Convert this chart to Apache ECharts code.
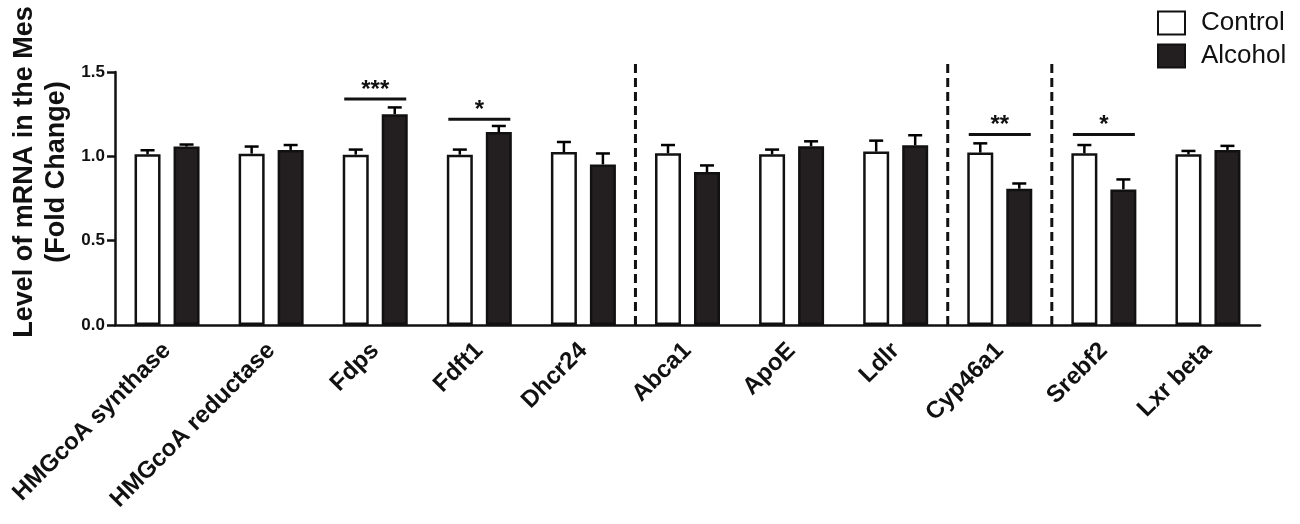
<!DOCTYPE html>
<html>
<head>
<meta charset="utf-8">
<script src="https://cdn.jsdelivr.net/npm/echarts@6/dist/echarts.min.js"></script>
<style>
html,body{margin:0;padding:0;background:#fff;}
#chart{width:1300px;height:524px;}
</style>
</head>
<body>
<div id="chart"></div>
<script>
// ---- data ----
const categories = ['HMGcoA synthase','HMGcoA reductase','Fdps','Fdft1','Dhcr24','Abca1','ApoE','Ldlr','Cyp46a1','Srebf2','Lxr beta'];
const controlMean = [1.012,1.016,1.010,1.010,1.025,1.018,1.012,1.028,1.022,1.018,1.012];
const controlSEM  = [0.024,0.042,0.030,0.030,0.060,0.049,0.028,0.065,0.055,0.049,0.020];
const alcoholMean = [1.058,1.038,1.250,1.144,0.952,0.907,1.060,1.065,0.808,0.804,1.038];
const alcoholSEM  = [0.012,0.029,0.040,0.036,0.065,0.039,0.029,0.060,0.031,0.059,0.024];
const sigCategory = [2,3,8,9];
const sigLevel    = [1.34,1.22,1.13,1.13];
const sigLabel    = ['***','*','**','*'];
const dividerAfter = [4,7,8];
const dividerTop = 1.575;
const yMin = 0, yMax = 1.5, yInterval = 0.5;
const seriesNames = ['Control','Alcohol'];
const yTitle = 'Level of mRNA in the Mes\n(Fold Change)';

// ---- style ----
const FONT = '"Liberation Sans", Arial, Helvetica, sans-serif';
const BAR_W = 26, BAR_GAP = 0.5;
const OFFSET = BAR_W * (1 + BAR_GAP) / 2;

const chart = echarts.init(document.getElementById('chart'), null, {renderer:'canvas'});

function errItems(mean, sem){ return mean.map((m,i)=>[i,m,sem[i]]); }

function errRender(sign){
  return function(params, api){
    const i = api.value(0), m = api.value(1), s = api.value(2);
    const p0 = api.coord([i, m]);
    const p1 = api.coord([i, m + s]);
    const x = p0[0] + sign * OFFSET;
    const st = {stroke:'#000', lineWidth:2.5};
    return {type:'group', children:[
      {type:'line', shape:{x1:x,y1:p0[1],x2:x,y2:p1[1]}, style:st},
      {type:'line', shape:{x1:x-7,y1:p1[1],x2:x+7,y2:p1[1]}, style:st}
    ]};
  };
}

const option = {
  animation:false,
  textStyle:{fontFamily:FONT},
  grid:{left:115, right:40, top:72, bottom:199, containLabel:false},
  legend:{
    data:seriesNames, orient:'vertical', left:1157, top:10, padding:0,
    itemWidth:27, itemHeight:23, itemGap:7, icon:'rect',
    textStyle:{fontSize:26, color:'#111', fontFamily:FONT, padding:[0,0,0,11]}
  },
  graphic:[{
    type:'text', x:41, y:172, rotation:Math.PI/2,
    style:{text:yTitle, font:'bold 27px ' + FONT, fill:'#111', align:'center', verticalAlign:'middle', lineHeight:32}
  }],
  xAxis:{
    type:'category', data:categories,
    axisLine:{lineStyle:{color:'#111', width:2.5}},
    axisTick:{show:false},
    axisLabel:{interval:0, rotate:45, fontSize:24, fontWeight:'bold', color:'#111', margin:22, fontFamily:FONT}
  },
  yAxis:{
    type:'value', min:yMin, max:yMax, interval:yInterval,
    axisLine:{show:true, lineStyle:{color:'#111', width:2.5}},
    axisTick:{show:true, length:8, lineStyle:{color:'#111', width:2.5}},
    splitLine:{show:false},
    axisLabel:{fontSize:17, fontWeight:'bold', color:'#111', margin:10, fontFamily:FONT, formatter:v=>v.toFixed(1)}
  },
  series:[
    {name:seriesNames[0], type:'bar', data:controlMean, barWidth:BAR_W, barGap:(BAR_GAP*100)+'%',
     itemStyle:{color:'#fff', borderColor:'#111', borderWidth:2.5}},
    {name:seriesNames[1], type:'bar', data:alcoholMean, barWidth:BAR_W,
     itemStyle:{color:'#231f20', borderColor:'#111', borderWidth:2.5}},
    {type:'custom', data:errItems(controlMean, controlSEM), renderItem:errRender(-1), encode:{x:0,y:1}, z:3},
    {type:'custom', data:errItems(alcoholMean, alcoholSEM), renderItem:errRender(1), encode:{x:0,y:1}, z:3},
    {type:'custom', data:sigCategory.map((c,k)=>[c, sigLevel[k], k]), encode:{x:0,y:1}, z:4,
     renderItem:function(params, api){
       const c = api.value(0), v = api.value(1), k = api.value(2);
       const p = api.coord([c, v]);
       return {type:'group', children:[
         {type:'line', shape:{x1:p[0]-31,y1:p[1],x2:p[0]+31,y2:p[1]}, style:{stroke:'#111', lineWidth:3}},
         {type:'text', x:p[0], y:p[1]+3, style:{text:sigLabel[k], font:'bold 24px ' + FONT, fill:'#111', align:'center', verticalAlign:'bottom'}}
       ]};
     }},
    {type:'custom', data:dividerAfter.map(d=>[d, 0]), encode:{x:0,y:1}, z:2,
     renderItem:function(params, api){
       const d = api.value(0);
       const band = api.size([1,0])[0];
       const b = api.coord([d, 0]);
       const t = api.coord([d, dividerTop]);
       const x = b[0] + band/2;
       return {type:'line', shape:{x1:x,y1:b[1],x2:x,y2:t[1]}, style:{stroke:'#111', lineWidth:3, lineDash:[9,5]}};
     }}
  ]
};
chart.setOption(option);
</script>
</body>
</html>
